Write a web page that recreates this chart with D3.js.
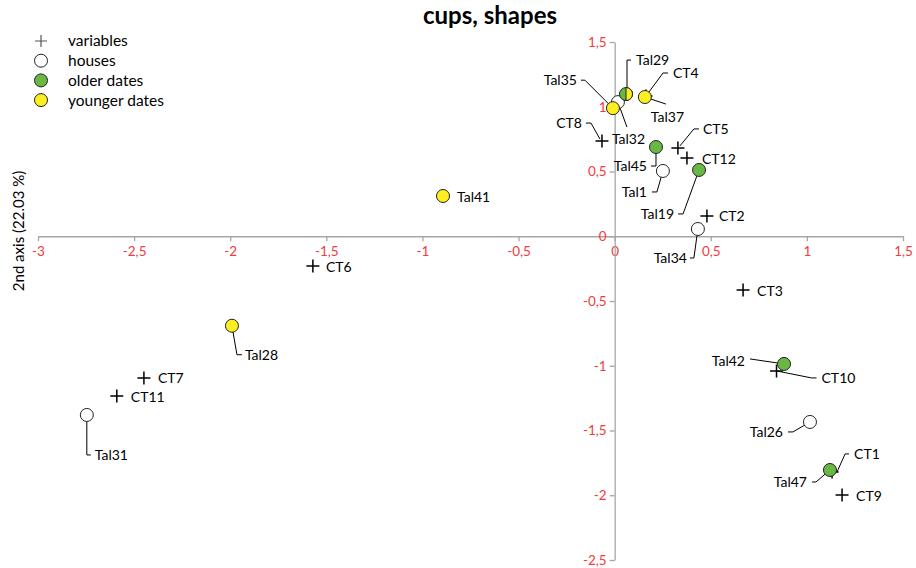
<!DOCTYPE html>
<html>
<head>
<meta charset="utf-8">
<script src="https://cdn.jsdelivr.net/npm/d3@7"></script>
<style>
  html, body { margin: 0; padding: 0; background: #fff; }
  svg { display: block; font-family: Lato, "Liberation Sans", sans-serif; }
</style>
</head>
<body>
<svg id="chart" width="916" height="568"></svg>
<script>
// ---- data: coordinates on axis 1 (x) and axis 2 (y) ----
const variableNames = ["CT1", "CT2", "CT3", "CT4", "CT5", "CT6", "CT7", "CT8", "CT9", "CT10", "CT11", "CT12"];
const variableX     = [1.131, 0.480, 0.668, 0.163, 0.329, -1.570, -2.449, -0.066, 1.183, 0.842, -2.590, 0.376];
const variableY     = [-1.820, 0.156, -0.415, 1.083, 0.682, -0.230, -1.095, 0.735, -1.998, -1.040, -1.234, 0.604];

const houseNames = ["Tal1", "Tal26", "Tal31", "Tal32", "Tal34"];
const houseX     = [0.251, 1.016, -2.746, 0.017, 0.433];
const houseY     = [0.504, -1.434, -1.380, 1.036, 0.056];

const olderNames = ["Tal19", "Tal29", "Tal42", "Tal45", "Tal47"];
const olderX     = [0.439, 0.059, 0.881, 0.215, 1.120];
const olderY     = [0.512, 1.098, -0.986, 0.689, -1.805];

const youngerNames = ["Tal28", "Tal35", "Tal37", "Tal41"];
const youngerX     = [-1.991, -0.009, 0.157, -0.893];
const youngerY     = [-0.691, 0.989, 1.075, 0.311];

// samples carrying both older and younger dates
const mixedNames = ["Tal29"];

const xTicks = [-3, -2.5, -2, -1.5, -1, -0.5, 0, 0.5, 1, 1.5];
const yTicks = [-2.5, -2, -1.5, -1, -0.5, 0, 0.5, 1, 1.5];

const legendLabels = ["variables", "houses", "older dates", "younger dates"];

// ---- label placement: text offset [dx, dy, anchor] and leader polyline (px, relative to the point) ----
const labelLayout = {
  CT1:   { t: [22, -18, "start"], l: [[5, 0], [13, -18], [17, -18]] },
  CT2:   { t: [12, 0, "start"] },
  CT3:   { t: [14, 1, "start"] },
  CT4:   { t: [27, -23, "start"], l: [[0, 0], [17, -23], [22, -23]] },
  CT5:   { t: [25, -19, "start"], l: [[2, -2], [16, -19], [21, -19]] },
  CT6:   { t: [13, 1, "start"] },
  CT7:   { t: [14, 0, "start"] },
  CT8:   { t: [-20, -18, "end"], l: [[-2, -2], [-11, -18], [-16, -18]] },
  CT9:   { t: [14, 1, "start"] },
  CT10:  { t: [45, 7, "start"], l: [[0, 0], [35, 7], [40, 7]] },
  CT11:  { t: [14, 1, "start"] },
  CT12:  { t: [15, 1, "start"] },
  Tal1:  { t: [-16, 21, "end"], l: [[0, 0], [-6, 21], [-11, 21]] },
  Tal26: { t: [-27, 10, "end"], l: [[0, 0], [-17, 10], [-22, 10]] },
  Tal31: { t: [8, 40, "start"], l: [[0, 0], [0, 40], [4, 40]] },
  Tal32: { t: [-6, 37, "start"], l: [[0, 0], [9, 25]] },
  Tal34: { t: [-11, 29, "end"], l: [[0, 0], [-4, 29], [-8, 29]] },
  Tal19: { t: [-25, 44, "end"], l: [[0, 0], [-16, 44], [-21, 44]] },
  Tal29: { t: [10, -34, "start"], l: [[1, 0], [1, -34], [5, -34]] },
  Tal42: { t: [-39, -3, "end"], l: [[0, 0], [-34, -5]] },
  Tal45: { t: [-9, 19, "end"], l: [[0, 0], [0, 19], [-5, 19]] },
  Tal47: { t: [-23, 12, "end"], l: [[0, 0], [-14, 12], [-18, 12]] },
  Tal28: { t: [13, 29, "start"], l: [[0, 0], [5, 29], [10, 29]] },
  Tal35: { t: [-36, -28, "end"], l: [[0, 0], [-28, -28], [-32, -28]] },
  Tal37: { t: [6, 20, "start"], l: [[0, 0], [21, 7]] },
  Tal41: { t: [14, 1, "start"] }
};

// ---- setup ----
const svg = d3.select("#chart");
const x = d3.scaleLinear().domain([-3, 1.5]).range([38, 903]);
const y = d3.scaleLinear().domain([-2.5, 1.5]).range([560, 42]);

const locale = d3.formatLocale({ decimal: ",", thousands: ".", grouping: [3], currency: ["", ""], minus: "-" });
const fmt = locale.format("");

const RED = "#f03c3c";
const AXIS = "#a6a6a6";
const GREEN = "#68b843";
const YELLOW = "#fcee21";
const R = 6.5;

const build = (names, xs, ys, group) => names.map((n, i) => ({ name: n, x: xs[i], y: ys[i], group }));
const variables = build(variableNames, variableX, variableY, "variable");
const houses = build(houseNames, houseX, houseY, "house");
const older = build(olderNames, olderX, olderY, "older");
const younger = build(youngerNames, youngerX, youngerY, "younger");
const all = [...variables, ...houses, ...older, ...younger];

// ---- title ----
svg.append("text")
  .attr("x", 490).attr("y", 24)
  .attr("text-anchor", "middle")
  .attr("font-size", 24).attr("font-weight", "bold")
  .attr("fill", "#000")
  .text("cups, shapes");

// ---- axes through the origin ----
const xAxis = svg.append("g")
  .attr("transform", `translate(0,${y(0)})`)
  .call(d3.axisBottom(x).tickValues(xTicks).tickFormat(fmt).tickSize(5).tickSizeOuter(0));
const yAxis = svg.append("g")
  .attr("transform", `translate(${x(0)},0)`)
  .call(d3.axisLeft(y).tickValues(yTicks).tickFormat(fmt).tickSize(5).tickSizeOuter(0));

[xAxis, yAxis].forEach(g => {
  g.select(".domain").attr("stroke", AXIS).attr("stroke-width", 1.3);
  g.selectAll(".tick line").attr("stroke", AXIS).attr("stroke-width", 1.3);
  g.selectAll(".tick text").attr("fill", RED).attr("font-size", 13.5).attr("font-family", "Lato, sans-serif");
});
xAxis.selectAll(".tick text").attr("dy", "0.85em");
yAxis.selectAll(".tick text").attr("x", -8);

// axis title
svg.append("text")
  .attr("transform", `translate(24,231) rotate(-90)`)
  .attr("text-anchor", "middle")
  .attr("font-size", 15)
  .attr("fill", "#000")
  .text("2nd axis (22.03 %)");

// ---- leader lines (under the markers) ----
const leaders = svg.append("g").attr("fill", "none").attr("stroke", "#000").attr("stroke-width", 1);
all.forEach(d => {
  const lay = labelLayout[d.name];
  if (!lay || !lay.l) return;
  const px = x(d.x), py = y(d.y);
  leaders.append("path")
    .attr("d", d3.line()(lay.l.map(p => [px + p[0], py + p[1]])));
});

// ---- markers ----
const cross = `M${-R},0H${R}M0,${-R}V${R}`;
svg.append("g").selectAll("path").data(variables).join("path")
  .attr("d", cross)
  .attr("transform", d => `translate(${x(d.x)},${y(d.y)})`)
  .attr("stroke", "#000").attr("stroke-width", 1.5).attr("fill", "none");

const circles = (data, fill) => svg.append("g").selectAll("circle").data(data).join("circle")
  .attr("cx", d => x(d.x)).attr("cy", d => y(d.y)).attr("r", R)
  .attr("fill", fill).attr("stroke", "#222").attr("stroke-width", 1);

circles(houses, "#fff");
circles(older, GREEN);
// right half in yellow for samples dated in both groups
svg.append("g").selectAll("path").data(older.filter(d => mixedNames.includes(d.name))).join("path")
  .attr("d", `M0,${-R}A${R},${R} 0 0 1 0,${R}Z`)
  .attr("transform", d => `translate(${x(d.x)},${y(d.y)})`)
  .attr("fill", YELLOW).attr("stroke", "#222").attr("stroke-width", 1);
circles(younger, YELLOW);

// ---- point labels ----
svg.append("g").selectAll("text").data(all).join("text")
  .attr("x", d => x(d.x) + labelLayout[d.name].t[0])
  .attr("y", d => y(d.y) + labelLayout[d.name].t[1])
  .attr("text-anchor", d => labelLayout[d.name].t[2])
  .attr("dy", "0.35em")
  .attr("font-size", 14)
  .attr("fill", "#000")
  .text(d => d.name);

// ---- legend ----
const legend = svg.append("g").attr("transform", "translate(41,41)");
const legendFills = [null, "#fff", GREEN, YELLOW];
legendLabels.forEach((lab, i) => {
  const row = legend.append("g").attr("transform", `translate(0,${i * 19.7})`);
  if (i === 0) {
    row.append("path").attr("d", `M-6,0H6M0,-6V6`).attr("stroke", "#555").attr("stroke-width", 1.2);
  } else {
    row.append("circle").attr("r", R).attr("fill", legendFills[i]).attr("stroke", "#222").attr("stroke-width", 1);
  }
  row.append("text").attr("x", 27).attr("dy", "0.35em")
    .attr("font-size", 15.5).attr("fill", "#000").text(lab);
});
</script>
</body>
</html>
